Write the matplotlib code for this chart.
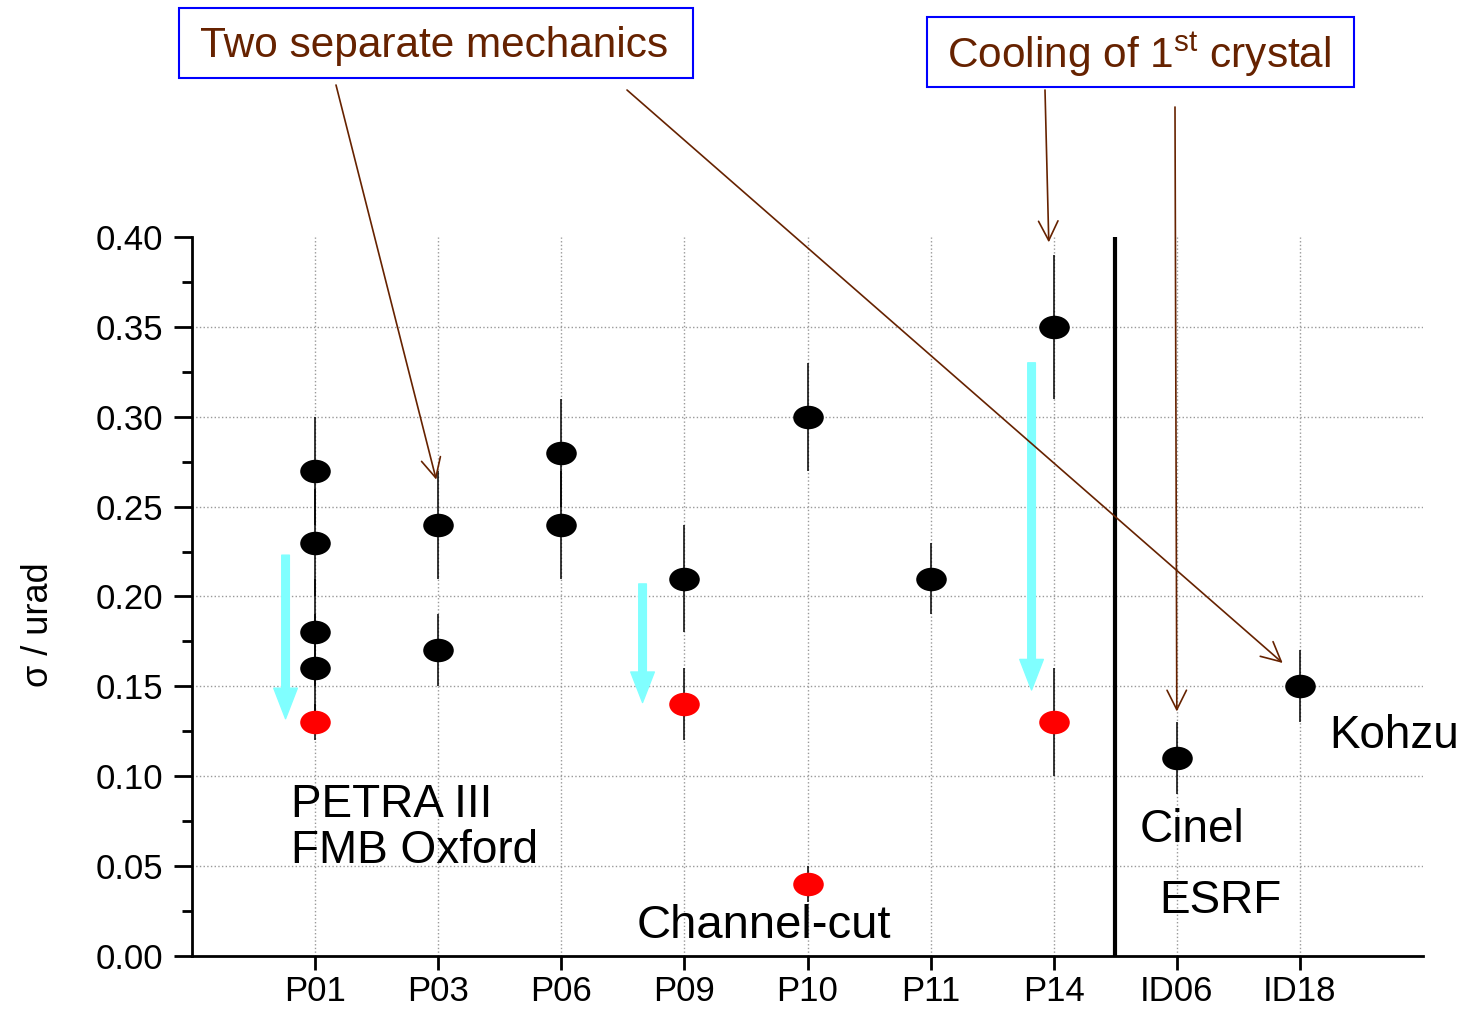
import matplotlib
matplotlib.use("Agg")
import matplotlib.pyplot as plt
from matplotlib.path import Path
from matplotlib.transforms import Affine2D
from matplotlib.patches import Rectangle

plt.rcParams['font.family'] = ['Liberation Sans', 'DejaVu Sans']
plt.rcParams['mathtext.fontset'] = 'custom'
plt.rcParams['mathtext.rm'] = 'Liberation Sans'

# beamlines on the x axis
stations = ['P01', 'P03', 'P06', 'P09', 'P10', 'P11', 'P14', 'ID06', 'ID18']

# black points: double crystal monochromators (station index 1..9)
black_x = [1, 1, 1, 1, 2, 2, 3, 3, 4, 5, 6, 7, 8, 9]
black_y = [0.27, 0.23, 0.18, 0.16, 0.24, 0.17, 0.28, 0.24, 0.21, 0.30, 0.21, 0.35, 0.11, 0.15]
black_err = [0.03, 0.03, 0.03, 0.03, 0.03, 0.02, 0.03, 0.03, 0.03, 0.03, 0.02, 0.04, 0.02, 0.02]

# red points: channel-cut / improved
red_x = [1, 4, 5, 7]
red_y = [0.13, 0.14, 0.04, 0.13]
red_err = [0.01, 0.02, 0.01, 0.03]

# cyan "improvement" arrows: x, start, end
cyan_x = [0.76, 3.66, 6.82]
cyan_from = [0.223, 0.207, 0.330]
cyan_to = [0.132, 0.141, 0.148]

brown = '#662200'

fig = plt.figure(figsize=(14.69, 10.11), dpi=100)
ax = fig.add_axes([0.1307, 0.0544, 0.8380, 0.7112])

ellipse = Path.unit_circle().transformed(Affine2D().scale(1.3, 1.0))

ax.errorbar(black_x, black_y, yerr=black_err, fmt='none', ecolor='k', elinewidth=1.1, capsize=0, zorder=3)
ax.errorbar(red_x, red_y, yerr=red_err, fmt='none', ecolor='k', elinewidth=1.1, capsize=0, zorder=3)
ax.plot(black_x, black_y, ls='none', marker=ellipse, ms=22, color='k', mew=0, zorder=4)
ax.plot(red_x, red_y, ls='none', marker=ellipse, ms=22, color='red', mew=0, zorder=4)

for x, y0, y1 in zip(cyan_x, cyan_from, cyan_to):
    ax.annotate('', xy=(x, y1), xytext=(x, y0),
                arrowprops=dict(arrowstyle='simple,head_width=1.7,head_length=2.2,tail_width=0.55',
                                color='#80FFFF', shrinkA=0, shrinkB=0, mutation_scale=10),
                zorder=5)

# separator PETRA III / ESRF
ax.axvline(7.5, color='k', lw=3, zorder=3)

ax.set_xlim(0, 10)
ax.set_ylim(0, 0.40)
ax.set_xticks(range(1, 10))
ax.set_xticklabels(stations)
ax.set_yticks([0.0, 0.05, 0.10, 0.15, 0.20, 0.25, 0.30, 0.35, 0.40])
ax.set_yticklabels(['0.00', '0.05', '0.10', '0.15', '0.20', '0.25', '0.30', '0.35', '0.40'])
ax.set_yticks([0.025 + 0.05 * i for i in range(8)], minor=True)

for s in ['top', 'right']:
    ax.spines[s].set_visible(False)
for s in ['left', 'bottom']:
    ax.spines[s].set_linewidth(2)

ax.tick_params(axis='both', which='major', direction='out', width=2, labelsize=25)
ax.tick_params(axis='y', which='major', length=13, pad=8)
ax.tick_params(axis='x', which='major', length=10, pad=4)
ax.tick_params(axis='y', which='minor', length=7, width=2)

ax.xaxis.grid(True, ls=':', color='#999999', lw=1)
for yv in [0.05, 0.10, 0.15, 0.20, 0.25, 0.30, 0.35]:
    ax.axhline(yv, ls=':', color='#999999', lw=1, zorder=1)
ax.set_axisbelow(True)

fig.text(38 / 1469, 1 - 625 / 1011, 'σ / urad', rotation=90, ha='center', va='center', fontsize=26)

# labels inside the plot
ax.text(0.805, 0.0773, 'PETRA III', fontsize=33, ha='left', va='baseline')
ax.text(0.805, 0.0517, 'FMB Oxford', fontsize=33, ha='left', va='baseline')
ax.text(3.61, 0.0100, 'Channel-cut', fontsize=34, ha='left', va='baseline')
ax.text(7.70, 0.0634, 'Cinel', fontsize=33, ha='left', va='baseline')
ax.text(7.86, 0.0239, 'ESRF', fontsize=33, ha='left', va='baseline')
ax.text(9.24, 0.1157, 'Kohzu', fontsize=33, ha='left', va='baseline')

# boxed comments at the top (pixel positions of the boxes)
W, H = 1469, 1011
for (x0, y0, x1, y1) in [(179, 8, 693, 78), (927, 17, 1354, 87)]:
    fig.patches.append(Rectangle((x0 / W, 1 - y1 / H), (x1 - x0) / W, (y1 - y0) / H,
                                 transform=fig.transFigure, fill=True, facecolor='white',
                                 edgecolor='#0000FF', lw=1.5))
fig.text(434 / W, 1 - 46 / H, 'Two separate mechanics', fontsize=30.5, color=brown, ha='center', va='center')
fig.text(1139 / W, 1 - 55 / H, r'Cooling of $\mathrm{1^{st}}$ crystal', fontsize=30.5, color=brown,
         ha='center', va='center')

# arrows from the comments to the points
arrow_start = [(336, 85), (627, 90), (1045, 90), (1175, 107)]
arrow_target = [(1.984, 0.265), (8.86, 0.163), (6.96, 0.397), (8.0, 0.136)]
for (px, py), (tx, ty) in zip(arrow_start, arrow_target):
    ax.annotate('', xy=(tx, ty), xycoords='data', xytext=(px, H - py), textcoords='figure pixels',
                arrowprops=dict(arrowstyle='->,head_length=0.7,head_width=0.35', color=brown, lw=1.2,
                                shrinkA=0, shrinkB=0, mutation_scale=20),
                annotation_clip=False, zorder=6)

fig.savefig('out.png', dpi=100)
